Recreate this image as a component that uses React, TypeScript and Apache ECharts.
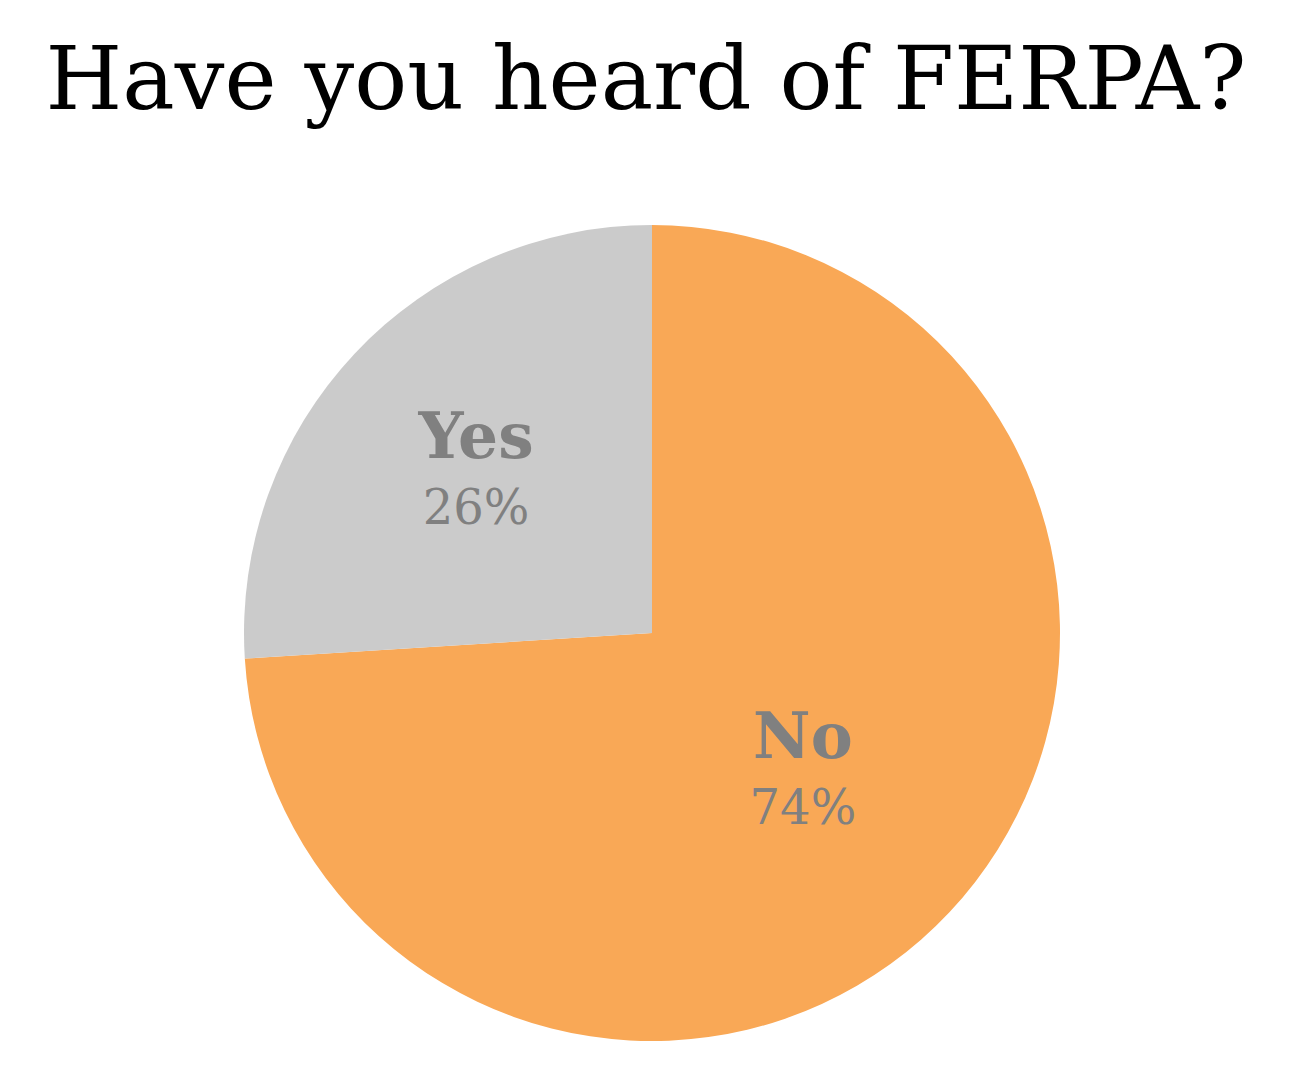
import React, { useEffect, useRef } from "react";
import * as echarts from "echarts";

const titleText = "Have you heard of FERPA?";
const categories = ["No", "Yes"];
const values = [74, 26];
const colors = ["#F9A856", "#CBCBCB"];

export default function App() {
  const ref = useRef<HTMLDivElement>(null);
  useEffect(() => {
    document.body.style.margin = "0";
    const chart = echarts.init(ref.current!, null, { renderer: "svg" });
    const font = "'DejaVu Serif', serif";
    chart.setOption({
      animation: false,
      backgroundColor: "#ffffff",
      title: {
        text: titleText,
        left: "center",
        top: 29,
        textStyle: { fontFamily: font, fontSize: 88, fontWeight: "normal", color: "#000000" },
      },
      series: [
        {
          type: "pie",
          center: [652, 633],
          radius: 408,
          startAngle: 90,
          clockwise: true,
          labelLine: { show: false },
          label: {
            show: true,
            position: "inside",
            formatter: (p: any) => `{n|${p.name}}\n{p|${p.percent.toFixed(0)}%}`,
            rich: {
              n: { fontFamily: font, fontSize: 63, fontWeight: "bold", color: "#808080", lineHeight: 76 },
              p: { fontFamily: font, fontSize: 48, color: "#808080", lineHeight: 66 },
            },
          },
          emphasis: { disabled: true },
          data: categories.map((c, i) => ({
            name: c,
            value: values[i],
            itemStyle: { color: colors[i] },
            label: i === 1 ? { padding: [0, 50, 44, 0] } : { padding: [0, 0, 12, 0] },
          })),
        },
      ],
    });
    return () => chart.dispose();
  }, []);
  return <div ref={ref} style={{ position: "absolute", left: 0, top: 0, width: 1292, height: 1081 }} />;
}
